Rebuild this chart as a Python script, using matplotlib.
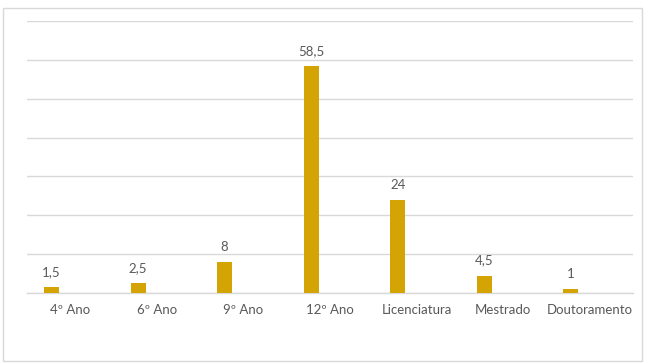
import matplotlib.pyplot as plt
import numpy as np
from matplotlib.patches import Rectangle

categories = ["4º Ano", "6º Ano", "9º Ano", "12º Ano", "Licenciatura", "Mestrado", "Doutoramento"]
values = [1.5, 2.5, 8, 58.5, 24, 4.5, 1]
value_labels = ["1,5", "2,5", "8", "58,5", "24", "4,5", "1"]

plt.rcParams["font.family"] = ["Lato", "DejaVu Sans"]
text_color = "#595959"
bar_color = "#D4A304"
grid_color = "#D9D9D9"

fig = plt.figure(figsize=(6.45, 3.64), dpi=100)
fig.patches.append(Rectangle((0.005, 0.008), 0.99, 0.97, transform=fig.transFigure,
                             fill=False, edgecolor=grid_color, linewidth=1.0))
ax = fig.add_axes([0.042, 0.195, 0.939, 0.747])

x = np.arange(len(categories))
offset = -0.217
width = 0.175
ax.bar(x + offset, values, width=width, color=bar_color, zorder=3)
for xi, v, lab in zip(x, values, value_labels):
    ax.annotate(lab, (xi + offset, v), xytext=(0, 6.5), textcoords="offset points",
                ha="center", va="bottom", fontsize=9.5, color=text_color)

ax.set_xlim(-0.5, len(categories) - 0.5)
ax.set_ylim(0, 70)
ax.set_yticks(np.arange(0, 71, 10))
ax.yaxis.grid(True, color=grid_color, linewidth=1.0, zorder=0)
ax.tick_params(axis="y", left=False, labelleft=False)
ax.set_xticks(x)
ax.set_xticklabels(categories, fontsize=9.5, color=text_color)
ax.tick_params(axis="x", length=0, pad=8)
for side in ["left", "right", "top"]:
    ax.spines[side].set_visible(False)
ax.spines["bottom"].set_color(grid_color)
ax.spines["bottom"].set_linewidth(1.0)

fig.savefig("out.png", dpi=100)
